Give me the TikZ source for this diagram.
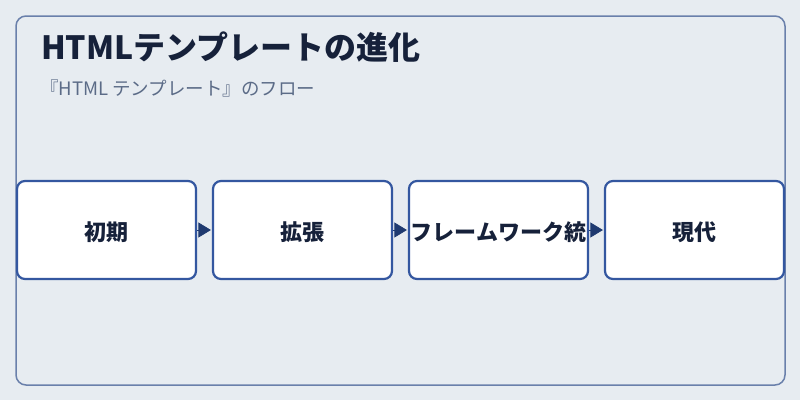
\documentclass[tikz,border=0pt]{standalone}
\usepackage{fontspec}
\setmainfont{Noto Sans CJK JP}
\usetikzlibrary{arrows.meta}
\definecolor{bgc}{HTML}{E7ECF1}
\definecolor{framec}{HTML}{6A80AB}
\definecolor{boxc}{HTML}{3457A0}
\definecolor{titc}{HTML}{16213A}
\definecolor{subc}{HTML}{5B6B87}
\definecolor{arrc}{HTML}{1F3A70}
\newcommand{\lowertext}[1]{\raisebox{-2.5pt}[\height][\depth]{#1}}
\tikzset{
  stagebox/.style={draw=boxc, line width=2.2pt, fill=white, rounded corners=8pt,
    minimum width=179pt, minimum height=98pt, inner sep=0pt, font=\fontsize{22}{26}\selectfont\bfseries, text=titc},
  flowarrow/.style={-{Triangle[length=12.5pt,width=15pt]}, draw=arrc, line width=0.8pt, shorten >=1pt}
}
\begin{document}
\begin{tikzpicture}[x=1pt,y=-1pt]
\useasboundingbox (0,0) rectangle (800,400);
\fill[bgc] (0,0) rectangle (800,400);
\draw[framec, line width=1.5pt, rounded corners=10pt] (16,16) rectangle (785,385);
\node[anchor=base west, text=titc, font=\fontsize{32}{36}\selectfont\bfseries, inner sep=0pt] (title) at (41,59) {HTMLテンプレートの進化};
\node[anchor=base west, text=subc, font=\fontsize{18.5}{22}\selectfont, inner sep=0pt] (sub) at (40,95) {『HTML テンプレート』のフロー};
\node[stagebox] (s1) at (106.5,230) {\lowertext{初期}};
\node[stagebox] (s2) at (302.5,230) {\lowertext{拡張}};
\node[stagebox] (s3) at (498.5,230) {\lowertext{フレームワーク統}};
\node[stagebox] (s4) at (694.5,230) {\lowertext{現代}};
\draw[flowarrow] (s1.east) -- (s2.west);
\draw[flowarrow] (s2.east) -- (s3.west);
\draw[flowarrow] (s3.east) -- (s4.west);
\end{tikzpicture}
\end{document}
